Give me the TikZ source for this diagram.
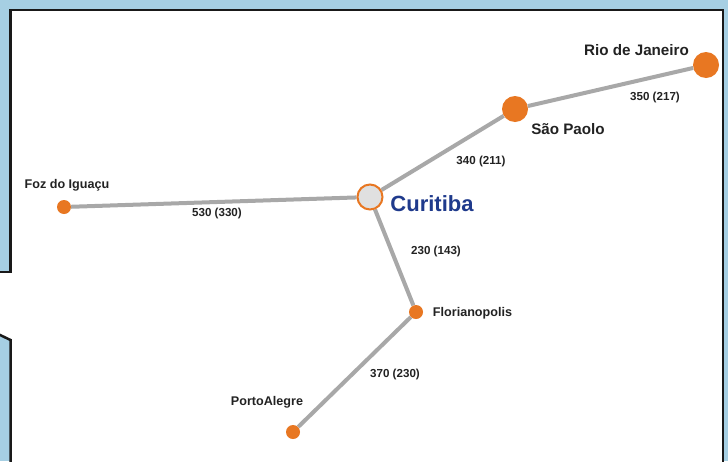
\documentclass[tikz,border=0pt]{standalone}
\usepackage{fontspec}
\setmainfont{Liberation Sans}
\usetikzlibrary{backgrounds}
\definecolor{bgblue}{HTML}{A6CFE3}
\definecolor{city}{HTML}{E87722}
\definecolor{road}{HTML}{A8A8A8}
\definecolor{cblue}{HTML}{1F3A8C}
\definecolor{txt}{HTML}{222222}
\tikzset{
  bigcity/.style={circle,fill=city,inner sep=0pt,minimum size=26pt},
  smallcity/.style={circle,fill=city,inner sep=0pt,minimum size=14pt},
  hub/.style={circle,fill=black!12,draw=city,line width=2pt,inner sep=0pt,minimum size=25pt},
  roadline/.style={draw=road,line width=4pt},
  bigname/.style={font=\fontsize{15.2}{17}\selectfont\bfseries,text=txt,inner sep=0pt},
  smallname/.style={font=\fontsize{12.6}{14}\selectfont\bfseries,text=txt,inner sep=0pt},
  dist/.style={font=\fontsize{11.6}{13}\selectfont\bfseries,text=txt,inner sep=0pt},
  hubname/.style={font=\fontsize{22}{24}\selectfont\bfseries,text=cblue,inner sep=0pt},
  frame/.style={draw=black!90,line width=2.5pt}
}
\begin{document}
\begin{tikzpicture}[x=1pt,y=-1pt]
\useasboundingbox (0,0) rectangle (728,461);
% cities
\node[bigcity] (rio) at (706,65) {};
\node[bigcity] (sao) at (515,109) {};
\node[hub] (cur) at (370,197) {};
\node[smallcity] (foz) at (64,207) {};
\node[smallcity] (flo) at (416,312) {};
\node[smallcity] (poa) at (293,432) {};
\begin{scope}[on background layer]
\fill[bgblue] (0,0) rectangle (728,461);
\begin{scope}
\clip (0,0) rectangle (728,461);
\fill[white] (10.5,10) -- (723,10) -- (723,470) -- (10.5,470) -- (10.5,340) -- (0,335) -- (0,272) -- (10.5,272) -- cycle;
\draw[frame] (-2,272) -- (10.5,272) -- (10.5,10) -- (723,10) -- (723,470);
\draw[frame] (-2,334) -- (10.5,340) -- (10.5,470);
\end{scope}
% roads
\path[roadline] (cur) -- (sao);
\path[roadline] (sao) -- (rio);
\path[roadline] (cur) -- (foz);
\path[roadline] (cur) -- (flo);
\path[roadline] (flo) -- (poa);
\end{scope}
% labels
\node[bigname] (lrio) at (636.5,50) {Rio de Janeiro};
\node[bigname] (lsao) at (568,129) {São Paolo};
\node[hubname] (lcur) at (432,204) {Curitiba};
\node[smallname] (lfoz) at (67,185) {Foz do Iguaçu};
\node[smallname] (lflo) at (472.5,313) {Florianopolis};
\node[smallname] (lpoa) at (267,402) {PortoAlegre};
\node[dist] (d1) at (655,97) {350 (217)};
\node[dist] (d2) at (481,161) {340 (211)};
\node[dist] (d3) at (217,213) {530 (330)};
\node[dist] (d4) at (436,251) {230 (143)};
\node[dist] (d5) at (395,374) {370 (230)};
\end{tikzpicture}
\end{document}
